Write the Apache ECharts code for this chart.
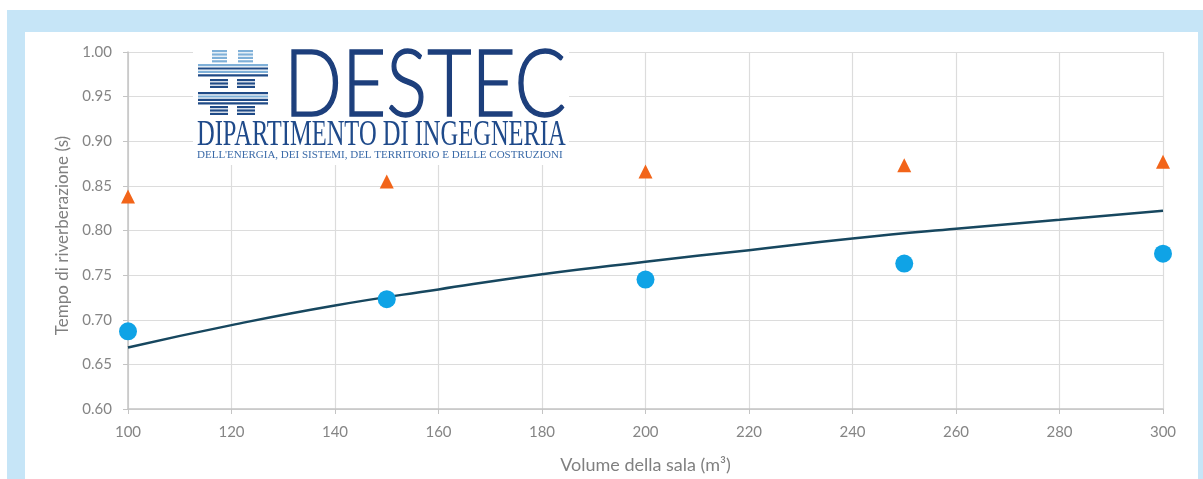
<!DOCTYPE html>
<html>
<head>
<meta charset="utf-8">
<script src="https://cdn.jsdelivr.net/npm/echarts@6/dist/echarts.min.js"></script>
<style>
html,body{margin:0;padding:0;background:#fff;}
#c{width:1203px;height:479px;}
</style>
</head>
<body>
<div id="c"></div>
<script>
// ---- data ----
const volumes = [100, 150, 200, 250, 300];
const measuredValues = [0.687, 0.723, 0.745, 0.763, 0.774];
const triangleValues = [0.838, 0.855, 0.866, 0.873, 0.877];
const curveVolumes = [100, 120, 140, 160, 180, 200, 220, 240, 260, 280, 300];
const curveValues = [0.669, 0.694, 0.716, 0.734, 0.751, 0.765, 0.778, 0.791, 0.802, 0.812, 0.822];
const xAxisTitle = 'Volume della sala (m³)';
const yAxisTitle = 'Tempo di riverberazione (s)';
const logoTitle = 'DESTEC';
const logoLine1 = 'DIPARTIMENTO DI INGEGNERIA';
const logoLine2 = "DELL'ENERGIA, DEI SISTEMI, DEL TERRITORIO E DELLE COSTRUZIONI";

const chart = echarts.init(document.getElementById('c'), null, {renderer: 'canvas'});

function stripes(x, y, w, n, colors) {
  const out = [];
  for (let i = 0; i < n; i++) {
    out.push({type: 'rect', shape: {x: x, y: y + i * 3.4, width: w, height: 2.2},
      style: {fill: colors[i % colors.length]}, z: 101});
  }
  return out;
}
const L = '#7fb0d8', D = '#1f4a86';
let logo = [
  {type: 'rect', shape: {x: 193, y: 41, width: 376, height: 124}, style: {fill: '#ffffff'}, z: 100}
];
logo = logo.concat(
  stripes(212, 50, 15, 4, [L]), stripes(238, 50, 15, 4, [L]),
  stripes(198, 64, 70, 4, [L, D, L, D]),
  stripes(210, 79, 18, 3, [D]), stripes(237, 79, 18, 3, [D]),
  stripes(198, 92, 70, 4, [D, L, D, D]),
  stripes(210, 106, 18, 3, [D]), stripes(237, 106, 18, 3, [D])
);
logo.push(
  {type: 'text', x: 284, y: 40, scaleX: 0.83, z: 102,
   style: {text: logoTitle, font: '300 92px Lato, "DejaVu Sans", sans-serif', fill: '#1d3f7c', textVerticalAlign: 'top',
     stroke: '#1d3f7c', lineWidth: 1.5}},
  {type: 'text', x: 197, y: 118, scaleX: 0.70, z: 102,
   style: {text: logoLine1, font: '35px "Liberation Serif", "DejaVu Serif", serif', fill: '#1f4a8a', textVerticalAlign: 'top'}},
  {type: 'text', x: 197, y: 150, scaleX: 1.0, z: 102,
   style: {text: logoLine2, font: '11px "Liberation Serif", "DejaVu Serif", serif', fill: '#3a6aa8', textVerticalAlign: 'top'}}
);

const option = {
  backgroundColor: '#ffffff',
  animation: false,
  graphic: [
    {type: 'rect', shape: {x: 7, y: 10, width: 1196, height: 469}, style: {fill: '#c6e5f7'}, z: -10, silent: true},
    {type: 'rect', shape: {x: 25, y: 32, width: 1173, height: 447}, style: {fill: '#ffffff'}, z: -9, silent: true}
  ].concat(logo),
  grid: {left: 128, right: 40, top: 52, bottom: 69},
  xAxis: {
    type: 'value', min: 100, max: 300, interval: 20,
    name: xAxisTitle, nameLocation: 'middle', nameGap: 47,
    nameTextStyle: {color: '#808080', fontSize: 18, fontFamily: 'Lato, sans-serif'},
    axisLine: {show: true, lineStyle: {color: '#c4c4c4', width: 1.5}},
    axisTick: {show: true, length: 5, lineStyle: {color: '#c4c4c4'}},
    axisLabel: {color: '#858585', fontSize: 15, fontFamily: 'Lato, sans-serif', margin: 16},
    splitLine: {show: true, lineStyle: {color: '#dcdcdc', width: 1.2}}
  },
  yAxis: {
    type: 'value', min: 0.6, max: 1.0, interval: 0.05,
    name: yAxisTitle, nameLocation: 'middle', nameGap: 57, nameRotate: 90,
    nameTextStyle: {color: '#808080', fontSize: 17, fontFamily: 'Lato, sans-serif', padding: [0, 10, 0, 0]},
    axisLine: {show: true, lineStyle: {color: '#c4c4c4', width: 1.5}},
    axisTick: {show: true, length: 5, lineStyle: {color: '#c4c4c4'}},
    axisLabel: {color: '#858585', fontSize: 15, fontFamily: 'Lato, sans-serif', margin: 16,
      formatter: v => v.toFixed(2)},
    splitLine: {show: true, lineStyle: {color: '#dcdcdc', width: 1.2}}
  },
  series: [
    {
      name: 'Curva', type: 'line', smooth: true, showSymbol: false, z: 2,
      data: curveVolumes.map((v, i) => [v, curveValues[i]]),
      lineStyle: {color: '#17475f', width: 2.5}
    },
    {
      name: 'Triangoli', type: 'scatter', symbol: 'triangle', symbolSize: 14, z: 3,
      data: volumes.map((v, i) => [v, triangleValues[i]]),
      itemStyle: {color: '#f26419', opacity: 1}
    },
    {
      name: 'Cerchi', type: 'scatter', symbol: 'circle', symbolSize: 18, z: 4,
      data: volumes.map((v, i) => [v, measuredValues[i]]),
      itemStyle: {color: '#0fa3e6', opacity: 1}
    }
  ]
};
chart.setOption(option);
</script>
</body>
</html>
